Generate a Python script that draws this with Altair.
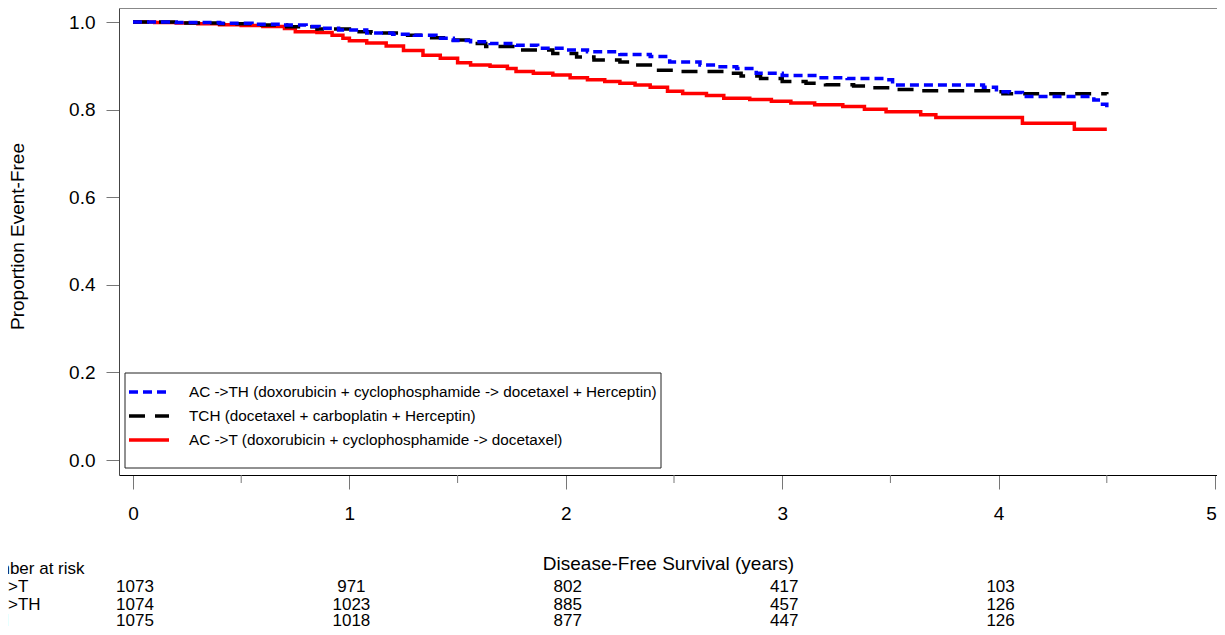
import altair as alt
import pandas as pd

# ---------------- data ----------------
ACT = "AC ->T (doxorubicin + cyclophosphamide -> docetaxel)"
TCH = "TCH (docetaxel + carboplatin + Herceptin)"
ACTH = "AC ->TH (doxorubicin + cyclophosphamide -> docetaxel + Herceptin)"

act_t = [0, 0.1, 0.2, 0.3, 0.4, 0.5, 0.6, 0.7, 0.75, 0.85, 0.92, 0.97, 1.0, 1.08, 1.17,
         1.25, 1.34, 1.42, 1.5, 1.56, 1.65, 1.73, 1.77, 1.85, 1.94, 2.02, 2.10, 2.18,
         2.25, 2.32, 2.39, 2.47, 2.54, 2.65, 2.73, 2.85, 2.95, 3.04, 3.15, 3.28, 3.38,
         3.48, 3.64, 3.71, 4.11, 4.35, 4.50]
act_s = [1.0, 0.999, 0.998, 0.996, 0.994, 0.992, 0.990, 0.985, 0.978, 0.976, 0.970,
         0.963, 0.957, 0.952, 0.945, 0.935, 0.924, 0.917, 0.907, 0.902, 0.899, 0.894,
         0.887, 0.883, 0.879, 0.873, 0.868, 0.864, 0.860, 0.856, 0.851, 0.842, 0.837,
         0.832, 0.826, 0.823, 0.819, 0.815, 0.811, 0.807, 0.801, 0.795, 0.788, 0.782,
         0.769, 0.755, 0.755]

tch_t = [0, 0.2, 0.4, 0.55, 0.71, 0.85, 1.0, 1.1, 1.26, 1.38, 1.48, 1.55, 1.63, 1.79,
         1.94, 2.05, 2.13, 2.25, 2.31, 2.42, 2.51, 2.74, 2.81, 2.9, 3.0, 3.11, 3.2, 3.33,
         3.42, 3.50, 3.62, 3.98, 4.02, 4.50]
tch_s = [1.0, 0.998, 0.996, 0.993, 0.989, 0.984, 0.978, 0.975, 0.970, 0.964, 0.959,
         0.951, 0.944, 0.936, 0.928, 0.920, 0.913, 0.909, 0.902, 0.890, 0.887, 0.883,
         0.877, 0.871, 0.864, 0.860, 0.857, 0.854, 0.850, 0.846, 0.843, 0.841, 0.836,
         0.835]

acth_t = [0, 0.2, 0.4, 0.55, 0.68, 0.8, 0.86, 0.95, 1.08, 1.2, 1.30, 1.4, 1.48, 1.56,
          1.65, 1.77, 1.87, 2.0, 2.10, 2.25, 2.39, 2.48, 2.62, 2.70, 2.79, 2.88, 3.0,
          3.16, 3.3, 3.48, 3.51, 3.93, 3.99, 4.05, 4.11, 4.38, 4.44, 4.48, 4.50]
acth_s = [1.0, 0.999, 0.997, 0.995, 0.993, 0.990, 0.986, 0.982, 0.975, 0.972, 0.970,
          0.963, 0.958, 0.955, 0.951, 0.947, 0.940, 0.936, 0.932, 0.926, 0.921, 0.909,
          0.902, 0.898, 0.894, 0.883, 0.878, 0.873, 0.871, 0.868, 0.856, 0.851, 0.841,
          0.839, 0.830, 0.830, 0.822, 0.812, 0.803]

risk_times = [0, 1, 2, 3, 4]
risk_act = [1073, 971, 802, 417, 103]
risk_acth = [1074, 1023, 885, 457, 126]
risk_tch = [1075, 1018, 877, 447, 126]
risk_title = "Number at risk"
row_labels = ["AC ->T", "AC ->TH", "TCH"]

x_ticks = [0, 1, 2, 3, 4, 5]
x_minor = [0.5, 1.5, 2.5, 3.5, 4.5]
y_ticks = [0.0, 0.2, 0.4, 0.6, 0.8, 1.0]

# ---------------- tables ----------------
curves = pd.concat([
    pd.DataFrame({"series": ACT, "t": act_t, "s": act_s}),
    pd.DataFrame({"series": TCH, "t": tch_t, "s": tch_s}),
    pd.DataFrame({"series": ACTH, "t": acth_t, "s": acth_s}),
], ignore_index=True)

FONT = "Liberation Sans"
W, H = 1098, 467

xscale = alt.Scale(domain=[-0.0647, 5.0092], nice=False, zero=False)
yscale = alt.Scale(domain=[-0.0342, 1.032], nice=False, zero=False)

xaxis = alt.Axis(values=x_ticks, format="d", tickSize=14, tickColor="#777",
                 domainColor="#000", labelFontSize=19, labelPadding=15,
                 labelOffset={"condition": {"test": "datum.value == 5", "value": -4},
                              "value": 0},
                 labelColor="#000", grid=False, title="Disease-Free Survival (years)",
                 titleFontSize=19, titleFontWeight="normal", titleColor="#000",
                 titleY=94, titleBaseline="alphabetic")
yaxis = alt.Axis(values=y_ticks, format=".1f", tickSize=13, tickColor="#777",
                 domainColor="#444", labelFontSize=19, labelPadding=11,
                 labelColor="#000", grid=False, title="Proportion Event-Free",
                 titleFontSize=19, titleFontWeight="normal", titleColor="#000",
                 titleX=-96, titleY=228, titleAnchor="middle",
                 titleBaseline="alphabetic")

order = [ACTH, TCH, ACT]
legend = alt.Legend(title=None, orient="none", legendX=8, legendY=372,
                    symbolType="stroke", symbolSize=1600, symbolStrokeWidth=3.5,
                    labelFontSize=15.3, labelColor="#000", labelOffset=18,
                    labelLimit=0, clipHeight=24, rowPadding=0, padding=0)

box = alt.Chart(pd.DataFrame({"a": [0]})).mark_rect(
    fill="white", stroke="#222", strokeWidth=1).encode(
    x=alt.value(6), x2=alt.value(542), y=alt.value(365), y2=alt.value(460))

top_edge = alt.Chart(pd.DataFrame({"a": [0]})).mark_rule(
    color="#888", strokeWidth=1).encode(
    x=alt.value(0), x2=alt.value(W), y=alt.value(0.5))

minor = alt.Chart(pd.DataFrame({"t": x_minor})).mark_rule(
    color="#777", strokeWidth=1).encode(
    x=alt.X("t:Q", scale=xscale), y=alt.value(H), y2=alt.value(H + 8))

lines = alt.Chart(curves).mark_line(interpolate="step-after", strokeWidth=3.5).encode(
    x=alt.X("t:Q", scale=xscale, axis=xaxis),
    y=alt.Y("s:Q", scale=yscale, axis=yaxis),
    color=alt.Color("series:N", scale=alt.Scale(domain=order,
                    range=["#0000ff", "#000000", "#ff0000"]), legend=legend),
    strokeDash=alt.StrokeDash("series:N", scale=alt.Scale(domain=order,
                    range=[[9, 5], [16, 10], [1, 0]]), legend=legend),
)

layers = [box, top_edge, minor, lines]

row_y = [584, 602, 618]
for vals, yy in zip([risk_act, risk_acth, risk_tch], row_y):
    df = pd.DataFrame({"t": risk_times, "n": vals})
    layers.append(alt.Chart(df).mark_text(
        fontSize=17, align="center", baseline="alphabetic", dx=2, color="#000").encode(
        x=alt.X("t:Q", scale=xscale), y=alt.value(yy), text="n:Q"))

for lab, yy in zip([risk_title] + row_labels, [566] + row_y):
    layers.append(alt.Chart(pd.DataFrame({"a": [0]})).mark_text(
        text=lab, fontSize=17, align="left", baseline="alphabetic", color="#000").encode(
        x=alt.value(-145), y=alt.value(yy)))

chart = alt.layer(*layers).properties(
    width=W, height=H,
    padding={"left": 111, "top": 0, "right": 0, "bottom": 152},
    autosize=alt.AutoSizeParams(type="none"),
).configure(font=FONT).configure_view(stroke=None)

chart.save("out.html", embed_options={"renderer": "svg", "actions": False})
